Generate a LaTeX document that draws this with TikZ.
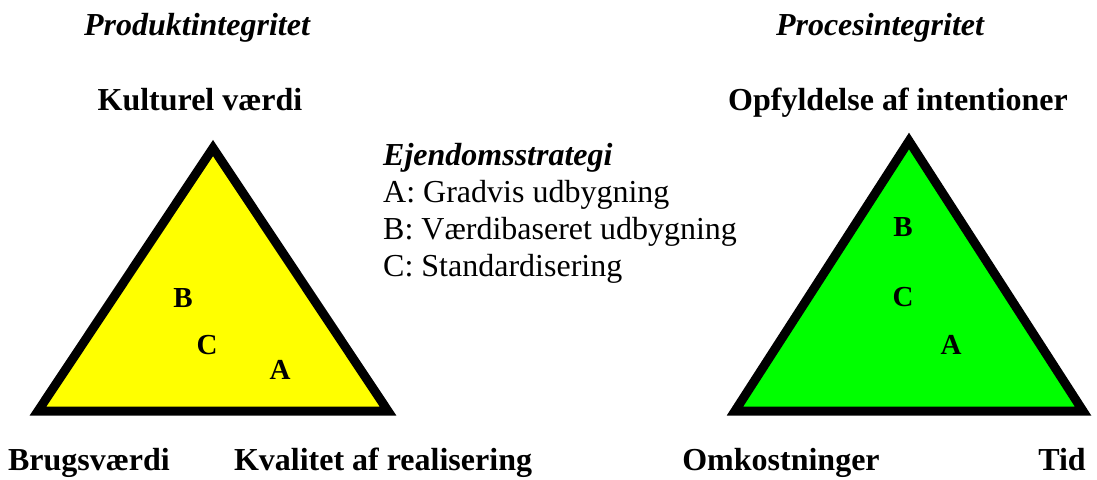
\documentclass[tikz,border=0pt]{standalone}
\usepackage{fontspec}
\setmainfont{Liberation Serif}
\usetikzlibrary{positioning}

\definecolor{prodfill}{RGB}{255,255,0}
\definecolor{procfill}{RGB}{0,255,0}

\tikzset{
  tri/.style={line width=9pt, line join=miter},
  lbl/.style={font=\fontsize{32}{38}\selectfont\bfseries, inner sep=0pt, anchor=base},
  ttl/.style={font=\fontsize{32}{38}\selectfont\bfseries\itshape, inner sep=0pt, anchor=base},
  stratlet/.style={font=\fontsize{29}{34}\selectfont\bfseries, inner sep=0pt},
  legend/.style={font=\fontsize{32}{38}\selectfont, inner sep=0pt, anchor=base west}
}

\begin{document}
\begin{tikzpicture}[x=1pt,y=-1pt]
\useasboundingbox (0,0) rectangle (1097,479);

% produkt
\coordinate (pt) at (213,148);
\coordinate (pl) at (38,411);
\coordinate (pr) at (388,411);
\draw[tri, fill=prodfill] (pt) -- (pl) -- (pr) -- cycle;

\node[ttl] (prodtitle) at (197,35) {Produktintegritet};
\node[lbl] (kultur) at (200,110) {Kulturel værdi};
\node[lbl] (brug) at (89,470) {Brugsværdi};
\node[lbl] (kval) at (383,470) {Kvalitet af realisering};
\node[stratlet] (pB) at (183,298) {B};
\node[stratlet] (pC) at (207,345) {C};
\node[stratlet] (pA) at (280,370) {A};

% proces
\coordinate (qt) at (909,141);
\coordinate (ql) at (735,411);
\coordinate (qr) at (1083,411);
\draw[tri, fill=procfill] (qt) -- (ql) -- (qr) -- cycle;

\node[ttl] (proctitle) at (880,35) {Procesintegritet};
\node[lbl] (opf) at (898,110) {Opfyldelse af intentioner};
\node[lbl] (omk) at (781,470) {Omkostninger};
\node[lbl] (tid) at (1062,470) {Tid};
\node[stratlet] (qB) at (903,227) {B};
\node[stratlet] (qC) at (903,297) {C};
\node[stratlet] (qA) at (951,345) {A};

% strategier
\node[legend] (strat) at (383,165) {\textbf{\textit{Ejendomsstrategi}}};
\node[legend] (sA) at (383,202) {A: Gradvis udbygning};
\node[legend] (sB) at (383,239) {B: Værdibaseret udbygning};
\node[legend] (sC) at (383,276) {C: Standardisering};
\end{tikzpicture}
\end{document}
